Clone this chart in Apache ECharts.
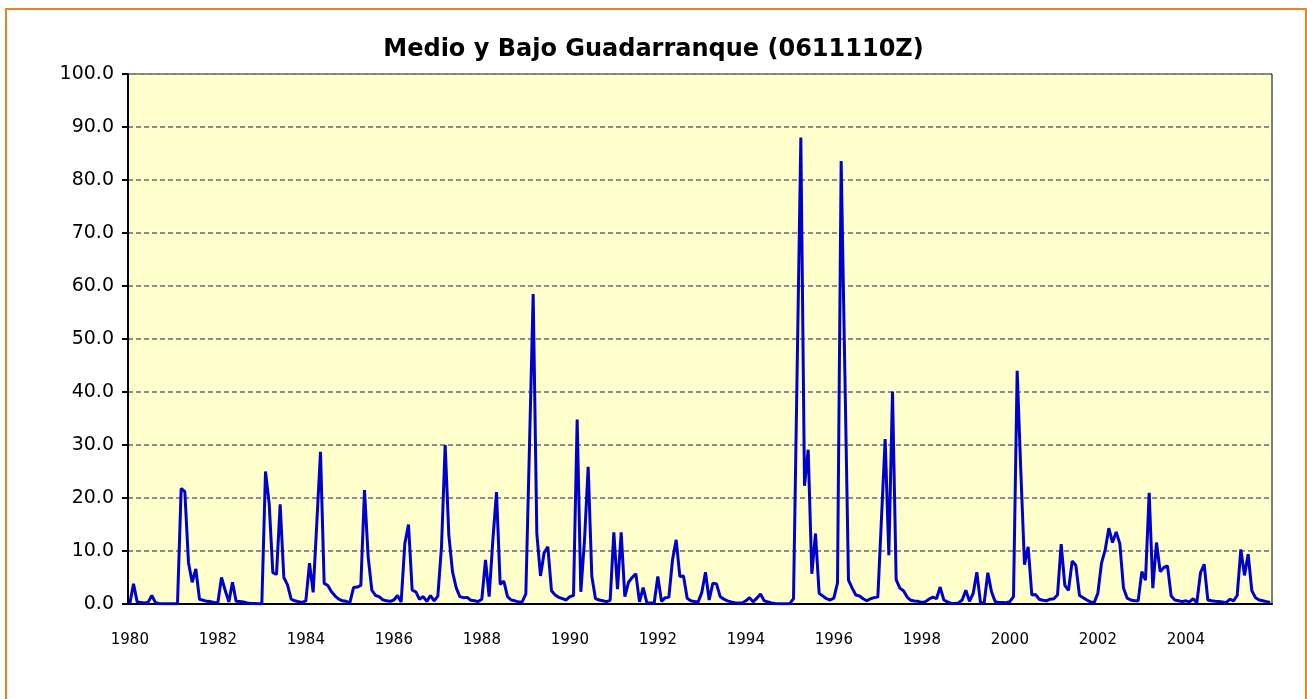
<!DOCTYPE html>
<html>
<head>
<meta charset="utf-8">
<title>Medio y Bajo Guadarranque (0611110Z)</title>
<script src="https://cdn.jsdelivr.net/npm/echarts@6/dist/echarts.min.js"></script>
<style>
  html, body { margin: 0; padding: 0; background: #fff; }
  #wrap { position: relative; width: 1307px; height: 699px; overflow: hidden; }
  #frame { position: absolute; left: 5px; top: 8px; width: 1298px; height: 700px; border: 2px solid #E8822A; }
  #chart { position: absolute; left: 0; top: 0; width: 1307px; height: 699px; }
</style>
</head>
<body>
<div id="wrap">
  <div id="frame"></div>
  <div id="chart"></div>
</div>
<script>
// Monthly values
var flow1980s = [
  0.1, 3.8, 0.4, 0.3, 0.2, 0.35, 1.6, 0.25, 0.1, 0.05, 0.05, 0.05,
  0.05, 0.05, 21.8, 21.2, 7.8, 4.1, 6.6, 0.9, 0.7, 0.5, 0.45, 0.3,
  0.25, 5.0, 2.6, 0.4, 4.1, 0.5, 0.45, 0.4, 0.2, 0.1, 0.1, 0.05,
  0.05, 25.0, 19.0, 5.9, 5.6, 18.8, 5.0, 3.6, 0.9, 0.6, 0.45, 0.3,
  0.6, 7.7, 2.2, 15.4, 28.7, 3.9, 3.5, 2.3, 1.5, 0.9, 0.6, 0.5,
  0.2, 3.1, 3.2, 3.5, 21.5, 8.9, 2.6, 1.6, 1.4, 0.8, 0.6, 0.5,
  0.75, 1.6, 0.4, 11.4, 15.0, 2.6, 2.3, 0.9, 1.4, 0.5, 1.6, 0.6,
  1.5, 10.8, 30.0, 13.0, 6.1, 3.1, 1.4, 1.2, 1.25, 0.7, 0.6, 0.45,
  0.9, 8.3, 1.4, 12.0, 21.1, 3.7, 4.3, 1.4, 0.75, 0.6, 0.4, 0.4,
  1.9, 30.0, 58.5, 13.3, 5.3, 9.7, 10.8, 2.5, 1.7, 1.25, 1.0, 0.75
];
var flow1990s = [
  1.4, 1.6, 34.8, 2.3, 12.0, 25.9, 5.2, 1.0, 0.75, 0.6, 0.45, 0.7,
  13.5, 2.8, 13.5, 1.4, 4.1, 5.0, 5.7, 0.4, 3.1, 0.25, 0.2, 0.2,
  5.2, 0.5, 1.2, 1.25, 8.3, 12.1, 5.2, 5.3, 1.1, 0.6, 0.45, 0.4,
  2.2, 6.0, 0.75, 3.9, 3.8, 1.4, 0.9, 0.6, 0.4, 0.25, 0.2, 0.2,
  0.6, 1.2, 0.4, 1.1, 1.9, 0.6, 0.4, 0.2, 0.1, 0.05, 0.05, 0.05,
  0.05, 1.0, 44.5, 88.0, 22.3, 29.1, 5.7, 13.3, 2.0, 1.5, 1.0, 0.75,
  1.1, 4.0, 83.6, 44.0, 4.5, 3.0, 1.7, 1.5, 1.0, 0.6, 1.0, 1.2,
  1.3, 16.2, 31.1, 9.2, 40.1, 4.6, 3.0, 2.5, 1.3, 0.7, 0.55, 0.5,
  0.3, 0.45, 0.95, 1.3, 1.0, 3.2, 0.75, 0.4, 0.1, 0.1, 0.2, 0.75,
  2.6, 0.5, 2.0, 6.0, 0.2, 0.2, 5.9, 2.3, 0.45, 0.3, 0.3, 0.25
];
var flow2000s = [
  0.45, 1.4, 44.0, 25.0, 7.4, 10.8, 1.7, 1.8, 0.9, 0.7, 0.6, 0.9,
  1.0, 1.7, 11.3, 3.5, 2.6, 8.1, 7.3, 1.6, 1.2, 0.75, 0.4, 0.25,
  2.0, 7.7, 10.2, 14.3, 11.6, 13.6, 11.4, 3.0, 1.1, 0.75, 0.6, 0.6,
  6.1, 4.5, 21.0, 3.0, 11.6, 6.1, 6.9, 7.2, 1.5, 0.75, 0.6, 0.45,
  0.6, 0.4, 1.0, 0.25, 5.9, 7.5, 0.75, 0.6, 0.5, 0.45, 0.4, 0.25,
  0.9, 0.6, 1.6, 10.3, 5.4, 9.4, 2.5, 1.2, 0.75, 0.6, 0.45, 0.3
];
var flowValues = flow1980s.concat(flow1990s, flow2000s);

var startYear = 1980;
var months = [];
for (var i = 0; i < flowValues.length; i++) {
  months.push((startYear + Math.floor(i / 12)) + '-' + (i % 12 + 1));
}

var chart = echarts.init(document.getElementById('chart'));
chart.setOption({
  animation: false,
  backgroundColor: 'transparent',

  // Title
  title: {
    text: 'Medio y Bajo Guadarranque (0611110Z)',
    left: 'center',
    top: 33,
    textStyle: {
      fontFamily: 'DejaVu Sans, Verdana, sans-serif',
      fontWeight: 'bold',
      fontSize: 24,
      color: '#000'
    }
  },

  // Plot area
  grid: {
    left: 128,
    right: 35,
    top: 74,
    bottom: 95,
    show: true,
    backgroundColor: '#FFFFCC',
    borderColor: '#000',
    borderWidth: 1
  },

  xAxis: {
    type: 'category',
    boundaryGap: true,
    data: months,
    axisLine: { lineStyle: { color: '#000', width: 2 } },
    axisTick: { interval: 11, length: 6, lineStyle: { color: '#000', width: 2 } },
    axisLabel: {
      interval: 23,
      margin: 29,
      color: '#000',
      fontFamily: 'DejaVu Sans, Verdana, sans-serif',
      fontSize: 15,
      formatter: function (v) { return v.split('-')[0]; }
    },
    splitLine: { show: false }
  },

  yAxis: {
    type: 'value',
    min: 0,
    max: 100,
    interval: 10,
    axisLine: { show: true, lineStyle: { color: '#000', width: 2 } },
    axisTick: { show: true, length: 6, lineStyle: { color: '#000', width: 2 } },
    axisLabel: {
      margin: 14,
      color: '#000',
      fontFamily: 'DejaVu Sans, Verdana, sans-serif',
      fontSize: 19,
      formatter: function (v) { return v.toFixed(1); }
    },
    splitLine: {
      lineStyle: { color: '#8C8C8C', width: 2, type: [5, 3] }
    }
  },

  series: [{
    name: 'Caudal',
    type: 'line',
    data: flowValues,
    showSymbol: false,
    lineStyle: { color: '#0000CC', width: 3 },
    itemStyle: { color: '#0000CC' }
  }]
});
</script>
</body>
</html>
